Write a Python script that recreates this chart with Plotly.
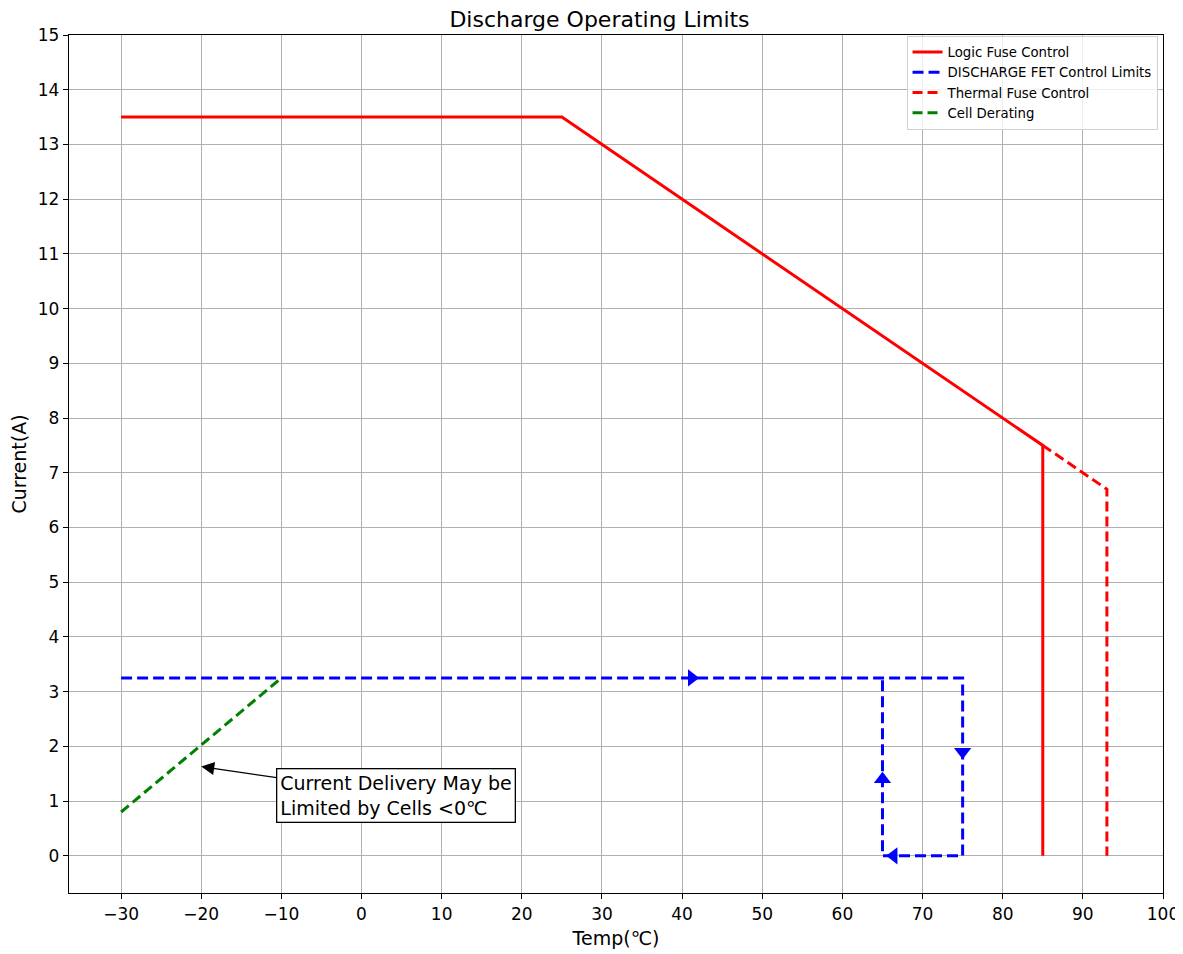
import plotly.graph_objects as go

# Data
logic_x = [-30, 25, 85, 85]
logic_y = [13.5, 13.5, 7.5, 0]
fet_x = [-30, 75, 75, 65, 65]
fet_y = [3.25, 3.25, 0, 0, 3.25]
thermal_x = [85, 93, 93]
thermal_y = [7.5, 6.7, 0]
cell_x = [-30, -10]
cell_y = [0.8, 3.25]
# direction arrows on FET path
arrow_x = [41.2, 75, 66.4, 65]
arrow_y = [3.25, 1.9, 0, 1.4]
arrow_sym = ["triangle-right", "triangle-down", "triangle-left", "triangle-up"]
x_ticks = list(range(-30, 101, 10))
y_ticks = list(range(0, 16))

FONT = "DejaVu Sans"

fig = go.Figure()
fig.add_trace(go.Scatter(x=logic_x, y=logic_y, mode="lines", name="Logic Fuse Control",
                         line=dict(color="red", width=3)))
fig.add_trace(go.Scatter(x=fet_x, y=fet_y, mode="lines", name="DISCHARGE FET Control Limits",
                         line=dict(color="blue", width=3, dash="11px,5px")))
fig.add_trace(go.Scatter(x=thermal_x, y=thermal_y, mode="lines", name="Thermal Fuse Control",
                         line=dict(color="red", width=3, dash="10px,5px")))
fig.add_trace(go.Scatter(x=cell_x, y=cell_y, mode="lines", name="Cell Derating",
                         line=dict(color="green", width=3, dash="10px,5px")))
fig.add_trace(go.Scatter(x=arrow_x, y=arrow_y, mode="markers", showlegend=False,
                         marker=dict(symbol=arrow_sym, size=15, color="blue", line=dict(width=0)),
                         hoverinfo="skip"))

fig.add_annotation(x=-20, y=1.63, xref="x", yref="y",
                   ax=4.3, ay=1.11, axref="x", ayref="y",
                   text="Current Delivery May be<br>Limited by Cells <0℃",
                   showarrow=True, arrowhead=2, arrowsize=2, arrowwidth=1.3, arrowcolor="black",
                   align="left", bgcolor="white", bordercolor="black", borderwidth=1.3, borderpad=3,
                   font=dict(family=FONT, size=19, color="black"))

axis_common = dict(showline=True, linecolor="black", linewidth=1.3, mirror=True,
                   ticks="outside", ticklen=5, tickcolor="black", automargin=False,
                   showgrid=True, gridcolor="#b0b0b0", gridwidth=1, zeroline=False,
                   tickfont=dict(family=FONT, size=17, color="black"))

fig.update_layout(
    width=1183, height=954,
    margin=dict(l=61, r=28, t=27, b=69),
    paper_bgcolor="white", plot_bgcolor="white",
    title=dict(text="Discharge Operating Limits", x=0.5, xanchor="center", y=0.9885, yanchor="middle",
               font=dict(family=FONT, size=22, color="black")),
    xaxis=dict(range=[-36.5, 100], tickvals=x_ticks,
               title=dict(text="Temp(℃)", font=dict(family=FONT, size=19, color="black"), standoff=9),
               **axis_common),
    yaxis=dict(range=[-0.68, 15], tickvals=y_ticks,
               title=dict(text="Current(A)", font=dict(family=FONT, size=19, color="black"), standoff=10),
               **axis_common),
    legend=dict(x=0.995, y=0.999, xanchor="right", yanchor="top",
                bgcolor="rgba(255,255,255,0.8)", bordercolor="#d0d0d0", borderwidth=1,
                font=dict(family=FONT, size=13.3, color="black"),
                tracegroupgap=0, itemwidth=30),
    showlegend=True,
)

fig.write_html("out.html")
